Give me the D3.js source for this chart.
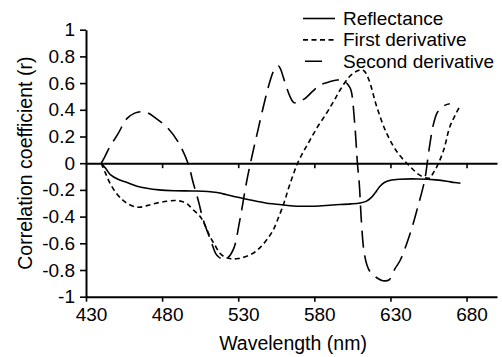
<!DOCTYPE html>
<html>
<head>
<meta charset="utf-8">
<script src="https://cdn.jsdelivr.net/npm/d3@7"></script>
<style>
  body { margin: 0; background: #fff; }
  text { font-family: Arial, "Liberation Sans", sans-serif; fill: #000; }
</style>
</head>
<body>
<div id="chart"></div>
<script>
// wavelength (nm) / correlation coefficient
const reflWave = [440, 443, 446, 451, 457, 463, 470, 478, 488, 500, 510, 516, 522, 528, 538, 548, 560, 570, 580, 592, 604, 610, 614, 617, 620, 623, 626, 630, 636, 648, 660, 667, 672, 676];
const reflValues = [0, -0.04, -0.085, -0.12, -0.145, -0.17, -0.188, -0.2, -0.206, -0.208, -0.212, -0.22, -0.235, -0.252, -0.276, -0.298, -0.313, -0.322, -0.322, -0.313, -0.305, -0.298, -0.286, -0.262, -0.222, -0.175, -0.145, -0.128, -0.12, -0.118, -0.125, -0.135, -0.145, -0.15];

const firstWave = [440, 443, 446, 450, 454, 457, 461, 465, 470, 476, 483, 489, 493, 496.5, 500, 505, 508, 511.5, 515, 518, 521.5, 525, 530, 536, 541, 545, 549, 553, 556, 560, 563, 566, 569, 573, 577, 582, 588, 593, 597, 603, 608, 611, 613, 616, 621, 627.5, 635, 643, 648, 651, 654, 656, 658, 660.5, 665, 669, 673, 676];
const firstValues = [0, -0.08, -0.155, -0.226, -0.275, -0.3, -0.322, -0.33, -0.318, -0.3, -0.285, -0.28, -0.287, -0.305, -0.345, -0.4, -0.46, -0.55, -0.62, -0.675, -0.705, -0.716, -0.714, -0.695, -0.665, -0.625, -0.57, -0.5, -0.42, -0.3, -0.19, -0.09, 0, 0.09, 0.17, 0.27, 0.374, 0.47, 0.55, 0.648, 0.69, 0.7, 0.688, 0.62, 0.423, 0.224, 0.074, -0.026, -0.08, -0.1, -0.112, -0.11, -0.075, -0.026, 0.1, 0.273, 0.37, 0.436];

const secondWave = [440, 442, 445, 451, 457, 462, 466, 470, 476, 484, 491, 497, 500.5, 504, 507, 512, 516, 520, 523, 527, 531, 535.5, 539, 543, 547.5, 551, 553, 555, 556.5, 558, 559.5, 562, 564, 566, 568, 571, 574, 579, 584, 590, 595, 599, 602, 604, 606.5, 608.3, 609.5, 611, 612.5, 614.5, 617, 621, 625, 629, 633, 636.5, 643, 648, 652.5, 654.5, 656, 658, 660.5, 663, 666, 669];
const secondValues = [0, 0.04, 0.11, 0.22, 0.336, 0.375, 0.386, 0.38, 0.336, 0.26, 0.15, 0, -0.15, -0.29, -0.425, -0.58, -0.69, -0.72, -0.71, -0.64, -0.43, -0.14, 0.05, 0.25, 0.47, 0.62, 0.685, 0.72, 0.728, 0.7, 0.648, 0.56, 0.5, 0.46, 0.452, 0.468, 0.486, 0.54, 0.586, 0.61, 0.623, 0.62, 0.59, 0.55, 0.3, 0, -0.15, -0.45, -0.65, -0.76, -0.82, -0.858, -0.88, -0.875, -0.79, -0.725, -0.525, -0.326, -0.126, 0.03, 0.15, 0.28, 0.374, 0.41, 0.435, 0.445];

const xTicks = [430, 480, 530, 580, 630, 680];
const yTicks = [1, 0.8, 0.6, 0.4, 0.2, 0, -0.2, -0.4, -0.6, -0.8, -1];
const yTickLabels = ['1', '0.8', '0.6', '0.4', '0.2', '0', '-0.2', '-0.4', '-0.6', '-0.8', '-1'];
const seriesNames = ['Reflectance', 'First derivative', 'Second derivative'];

const width = 502, height = 357;

const svg = d3.select('#chart')
    .append('svg')
    .attr('width', width)
    .attr('height', height);

const xScale = d3.scaleLinear().domain([430, 700]).range([86, 497]);
const yScale = d3.scaleLinear().domain([-1, 1]).range([296.7, 29.7]);

// Y axis
const yAxis = svg.append('g')
    .attr('transform', `translate(${xScale(430)},0)`)
    .call(d3.axisLeft(yScale)
        .tickValues(yTicks)
        .tickFormat((d, i) => yTickLabels[i])
        .tickSize(6)
        .tickSizeOuter(0)
        .tickPadding(5));
yAxis.selectAll('text').attr('font-size', '19px').attr('font-family', null);

// X axis at the bottom
const xAxis = svg.append('g')
    .attr('transform', `translate(0,${yScale(-1)})`)
    .call(d3.axisBottom(xScale)
        .tickValues(xTicks)
        .tickSize(5)
        .tickSizeOuter(0)
        .tickPadding(6));
xAxis.selectAll('text').attr('font-size', '19px').attr('font-family', null).attr('dx', 5);

// zero line with small ticks
svg.append('g')
    .attr('transform', `translate(0,${yScale(0)})`)
    .call(d3.axisBottom(xScale)
        .tickValues(xTicks.slice(1))
        .tickFormat('')
        .tickSize(5)
        .tickSizeOuter(0));

svg.selectAll('.domain').attr('stroke-width', 2);
svg.selectAll('.tick line').attr('stroke-width', 1.6);

// axis titles
svg.append('text')
    .attr('transform', `translate(32,${yScale(0)}) rotate(-90)`)
    .attr('text-anchor', 'middle')
    .attr('font-size', '19.5px')
    .text('Correlation coefficient (r)');

svg.append('text')
    .attr('x', (xScale(430) + 500) / 2)
    .attr('y', 350)
    .attr('text-anchor', 'middle')
    .attr('font-size', '19.5px')
    .text('Wavelength (nm)');

// curves
const series = [
    { wave: reflWave, values: reflValues, dash: null, legendDash: null },
    { wave: firstWave, values: firstValues, dash: '5,3.5', legendDash: '5,3.5' },
    { wave: secondWave, values: secondValues, dash: '17,8', legendDash: '0,2,17,20' }
];

const line = d3.line()
    .x(d => xScale(d[0]))
    .y(d => yScale(d[1]))
    .curve(d3.curveCatmullRom);

series.forEach(s => {
    svg.append('path')
        .datum(d3.zip(s.wave, s.values))
        .attr('fill', 'none')
        .attr('stroke', '#000')
        .attr('stroke-width', 1.6)
        .attr('stroke-dasharray', s.dash)
        .attr('d', line);
});

// legend
const legend = svg.append('g');
seriesNames.forEach((name, i) => {
    const ly = 18.5 + i * 21.4;
    legend.append('line')
        .attr('x1', 303).attr('x2', 335)
        .attr('y1', ly).attr('y2', ly)
        .attr('stroke', '#000')
        .attr('stroke-width', 1.6)
        .attr('stroke-dasharray', series[i].legendDash);
    legend.append('text')
        .attr('x', 343)
        .attr('y', ly + 6.5)
        .attr('font-size', '19px')
        .text(name);
});
</script>
</body>
</html>
